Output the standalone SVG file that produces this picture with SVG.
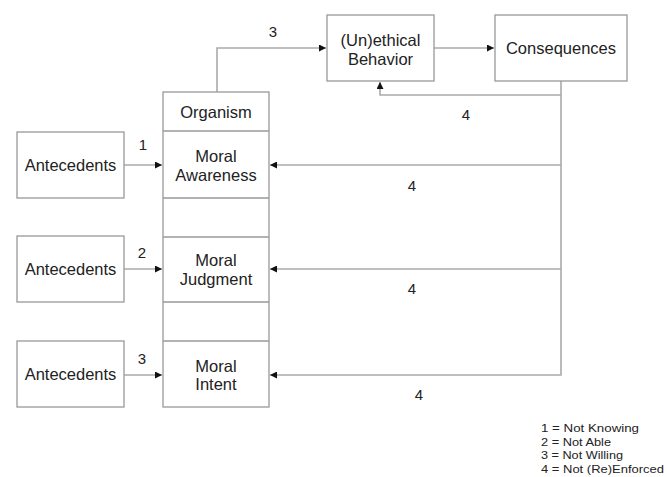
<svg xmlns="http://www.w3.org/2000/svg" width="668" height="477" viewBox="0 0 668 477">
<defs>
<marker id="ah" viewBox="0 0 10 10" refX="10" refY="5" markerWidth="9" markerHeight="7" markerUnits="userSpaceOnUse" orient="auto">
<path d="M0,0 L10,5 L0,10 z" fill="#111"/>
</marker>
<style>
.box{fill:#fff;stroke:#999;stroke-width:1.3}
.ln{fill:none;stroke:#aaa;stroke-width:1.6}
.t{font-family:"Liberation Sans",Arial,sans-serif;font-size:16.5px;fill:#222;text-anchor:middle}
.n{font-family:"Liberation Sans",Arial,sans-serif;font-size:15px;fill:#222;text-anchor:middle}
.lg{font-family:"Liberation Sans",Arial,sans-serif;font-size:11.6px;fill:#222}
</style>
</defs>
<rect width="668" height="477" fill="#fff"/>
<g id="connectors">
<path class="ln" d="M124,165 H162" marker-end="url(#ah)"/>
<path class="ln" d="M124,269 H162" marker-end="url(#ah)"/>
<path class="ln" d="M124,375 H162" marker-end="url(#ah)"/>
<path class="ln" d="M217,92 V48 H326" marker-end="url(#ah)"/>
<path class="ln" d="M434,48 H494" marker-end="url(#ah)"/>
<path class="ln" d="M561,81 V375 H270" marker-end="url(#ah)"/>
<path class="ln" d="M561,95 H380 V82" marker-end="url(#ah)"/>
<path class="ln" d="M561,165 H270" marker-end="url(#ah)"/>
<path class="ln" d="M561,269 H270" marker-end="url(#ah)"/>
<text class="n" x="143" y="150">1</text>
<text class="n" x="142" y="258">2</text>
<text class="n" x="142" y="364">3</text>
<text class="n" x="273" y="37">3</text>
<text class="n" x="466" y="120">4</text>
<text class="n" x="412" y="191">4</text>
<text class="n" x="412" y="294">4</text>
<text class="n" x="419" y="400">4</text>
</g>
<g id="antecedents1"><rect class="box" x="17" y="132" width="107" height="66"/><text class="t" x="70.5" y="171">Antecedents</text></g>
<g id="antecedents2"><rect class="box" x="17" y="236" width="107" height="66"/><text class="t" x="70.5" y="275">Antecedents</text></g>
<g id="antecedents3"><rect class="box" x="17" y="341" width="107" height="66"/><text class="t" x="70.5" y="380">Antecedents</text></g>
<g id="organism">
<rect class="box" x="163" y="92" width="106" height="315"/>
<path class="ln" d="M163,131 H269 M163,198 H269 M163,237 H269 M163,302 H269 M163,341 H269" style="stroke:#999;stroke-width:1.3"/>
<text class="t" x="216" y="118">Organism</text>
</g>
<g id="moral-awareness"><text class="t" x="216" y="162">Moral</text><text class="t" x="216" y="181">Awareness</text></g>
<g id="moral-judgment"><text class="t" x="216" y="266">Moral</text><text class="t" x="216" y="285">Judgment</text></g>
<g id="moral-intent"><text class="t" x="216" y="372">Moral</text><text class="t" x="216" y="390">Intent</text></g>
<g id="behavior"><rect class="box" x="327" y="15" width="107" height="66"/><text class="t" x="380.5" y="46">(Un)ethical</text><text class="t" x="380.5" y="65">Behavior</text></g>
<g id="consequences"><rect class="box" x="495" y="15" width="132" height="66"/><text class="t" x="561" y="54">Consequences</text></g>
<g id="legend">
<text class="lg" x="541" y="432" textLength="98" lengthAdjust="spacingAndGlyphs">1 = Not Knowing</text>
<text class="lg" x="541" y="445.5" textLength="70" lengthAdjust="spacingAndGlyphs">2 = Not Able</text>
<text class="lg" x="541" y="459" textLength="82" lengthAdjust="spacingAndGlyphs">3 = Not Willing</text>
<text class="lg" x="541" y="472.5" textLength="123" lengthAdjust="spacingAndGlyphs">4 = Not (Re)Enforced</text>
</g>
</svg>
